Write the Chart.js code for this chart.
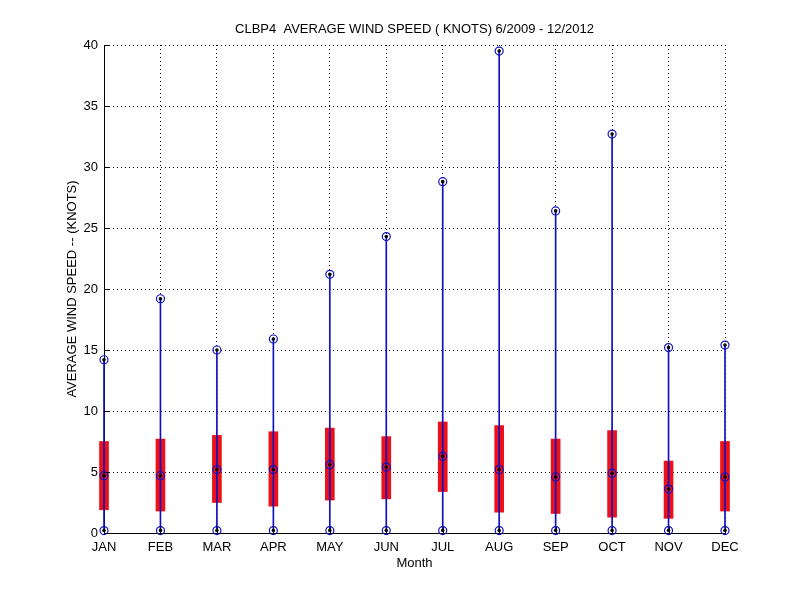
<!DOCTYPE html>
<html>
<head>
<meta charset="utf-8">
<script src="https://cdn.jsdelivr.net/npm/chart.js@4.4.0/dist/chart.umd.min.js"></script>
<style>
    html, body { margin: 0; padding: 0; background: #fff; }
</style>
</head>
<body>
<canvas id="windChart" width="800" height="600"></canvas>
<script>
// Monthly wind statistics
const months = ['JAN', 'FEB', 'MAR', 'APR', 'MAY', 'JUN', 'JUL', 'AUG', 'SEP', 'OCT', 'NOV', 'DEC'];
const maxSpeed = [14.2, 19.2, 15.0, 15.9, 21.2, 24.3, 28.8, 39.5, 26.4, 32.7, 15.2, 15.4];
const minSpeed = [0.2, 0.2, 0.2, 0.2, 0.2, 0.2, 0.2, 0.2, 0.2, 0.2, 0.2, 0.2];
const meanSpeed = [4.7, 4.7, 5.2, 5.2, 5.6, 5.4, 6.3, 5.2, 4.6, 4.9, 3.6, 4.6];
const boxLow = [1.9, 1.8, 2.5, 2.2, 2.7, 2.8, 3.4, 1.7, 1.6, 1.3, 1.2, 1.8];
const boxHigh = [7.5, 7.7, 8.0, 8.3, 8.6, 7.9, 9.1, 8.8, 7.7, 8.4, 5.9, 7.5];
const yTicks = [0, 5, 10, 15, 20, 25, 30, 35, 40];

const chartTitle = 'CLBP4  AVERAGE WIND SPEED ( KNOTS) 6/2009 - 12/2012';
const BLUE = '#1010c0';
const RED = '#ec1018';
const FONT = "'Liberation Sans', Arial, sans-serif";

// Small inward tick marks, MATLAB style
const innerTicks = {
    id: 'innerTicks',
    afterDatasetsDraw(chart) {
        const { ctx, chartArea, scales } = chart;
        ctx.save();
        ctx.strokeStyle = '#000';
        ctx.lineWidth = 1;
        ctx.beginPath();
        yTicks.forEach(v => {
            const y = Math.round(scales.y.getPixelForValue(v)) + 0.5;
            ctx.moveTo(chartArea.left, y);
            ctx.lineTo(chartArea.left + 6, y);
        });
        months.forEach((m, i) => {
            const x = Math.round(scales.x.getPixelForValue(i)) + 0.5;
            ctx.moveTo(x, chartArea.bottom);
            ctx.lineTo(x, chartArea.bottom - 6);
        });
        ctx.stroke();
        ctx.restore();
    }
};

// Title centred over the plot area, not the whole canvas
const plotTitle = {
    id: 'plotTitle',
    afterDraw(chart) {
        const { ctx, chartArea } = chart;
        ctx.save();
        ctx.fillStyle = '#000';
        ctx.font = '13px ' + FONT;
        ctx.textAlign = 'center';
        ctx.textBaseline = 'middle';
        ctx.fillText(chartTitle, (chartArea.left + chartArea.right) / 2, 29);
        ctx.restore();
    }
};

const markerSets = [maxSpeed, minSpeed, meanSpeed];
const markerDatasets = [];
markerSets.forEach(values => {
    markerDatasets.push({
        type: 'line',
        data: values,
        showLine: false,
        pointStyle: 'circle',
        pointRadius: 4,
        pointBorderWidth: 1.2,
        pointBorderColor: BLUE,
        pointBackgroundColor: 'rgba(0,0,0,0)',
        clip: false,
        order: 1
    });
    markerDatasets.push({
        type: 'line',
        data: values,
        showLine: false,
        pointStyle: 'circle',
        pointRadius: 1.8,
        pointBorderWidth: 0,
        pointBackgroundColor: '#000',
        clip: false,
        order: 0
    });
});

new Chart(document.getElementById('windChart').getContext('2d'), {
    type: 'bar',
    data: {
        labels: months,
        datasets: [
            {
                data: months.map((m, i) => [boxLow[i], boxHigh[i]]),
                backgroundColor: RED,
                borderWidth: 0,
                barThickness: 9,
                grouped: false,
                clip: false,
                order: 3
            },
            {
                data: months.map((m, i) => [minSpeed[i], maxSpeed[i]]),
                backgroundColor: BLUE,
                borderWidth: 0,
                barThickness: 1,
                grouped: false,
                clip: false,
                order: 2
            },
            ...markerDatasets
        ]
    },
    options: {
        responsive: false,
        animation: false,
        layout: {
            padding: { left: 0, right: 75, top: 45, bottom: 0 }
        },
        plugins: {
            legend: { display: false },
            tooltip: { enabled: false },
            title: { display: false }
        },
        scales: {
            x: {
                offset: false,
                grid: {
                    offset: false,
                    color: '#000',
                    lineWidth: 1,
                    drawTicks: false
                },
                border: { display: true, color: '#000', width: 1, dash: [1, 3] },
                ticks: {
                    color: '#000',
                    font: { family: FONT, size: 13 },
                    padding: 7,
                    maxRotation: 0
                },
                title: {
                    display: true,
                    text: 'Month',
                    color: '#000',
                    font: { family: FONT, size: 13 },
                    padding: { top: 0, bottom: 29 }
                },
                afterFit(scale) { scale.height = 67; }
            },
            y: {
                min: 0,
                max: 40,
                grid: {
                    color: '#000',
                    lineWidth: 1,
                    drawTicks: false
                },
                border: { display: true, color: '#000', width: 1, dash: [1, 3] },
                ticks: {
                    stepSize: 5,
                    color: '#000',
                    font: { family: FONT, size: 13 },
                    padding: 6
                },
                title: {
                    display: true,
                    text: 'AVERAGE WIND SPEED -- (KNOTS)',
                    color: '#000',
                    font: { family: FONT, size: 13 },
                    padding: { top: 65, bottom: 0 }
                },
                afterFit(scale) { scale.width = 104; }
            }
        }
    },
    plugins: [innerTicks, plotTitle]
});
</script>
</body>
</html>
